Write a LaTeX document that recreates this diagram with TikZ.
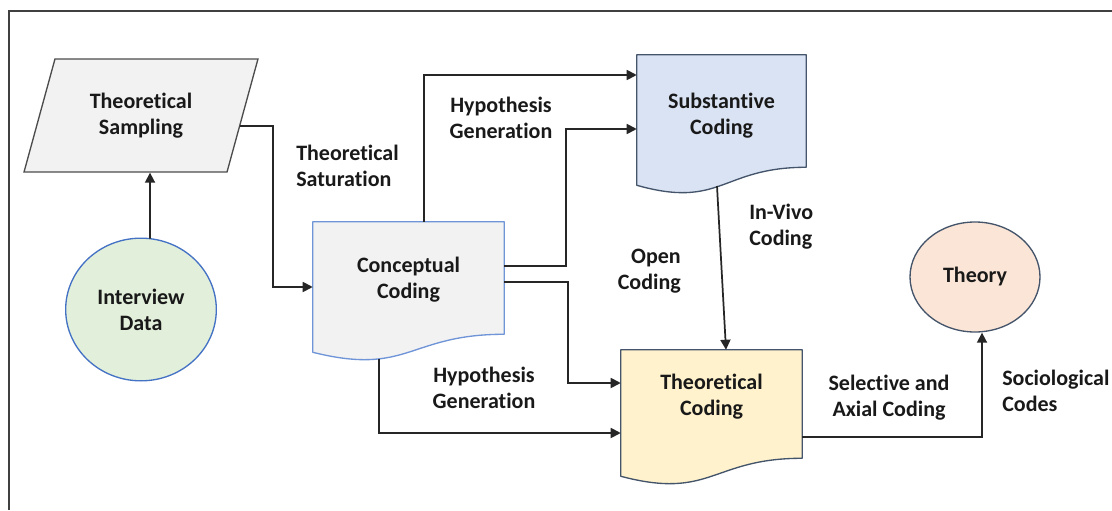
\documentclass[tikz,border=0pt]{standalone}
\usepackage{fontspec}
\setmainfont[Ligatures=NoCommon]{Carlito}
\usetikzlibrary{shapes.geometric,arrows.meta,calc,backgrounds}

\definecolor{samplefill}{HTML}{F2F2F2}
\definecolor{interfill}{HTML}{E2EFDA}
\definecolor{substfill}{HTML}{DAE3F3}
\definecolor{theofill}{HTML}{FFF2CC}
\definecolor{theoryfill}{HTML}{FBE5D6}
\definecolor{lightblue}{HTML}{4472C4}
\definecolor{paleblue}{HTML}{6F95D8}
\definecolor{slateblue}{HTML}{44546A}
\definecolor{darkline}{HTML}{262626}

% document shape below a node: #1 node, #2 extra depth, #3 fill, #4 line
\newcommand{\docshape}[4]{%
  \filldraw[fill=#3, draw=#4, line width=1pt, line join=round]
    (#1.north west) -- (#1.north east) -- ($(#1.south east)+(0,#2-18)$)
    .. controls ($(#1.south)+(0,#2-18)$) and ($(#1.south)+(0,#2+24)$)
    .. ($(#1.south west)+(0,#2)$) -- cycle;
}

\begin{document}
\begin{tikzpicture}[x=0.75pt,y=-0.75pt,
    every node/.style={font=\fontsize{16.5}{19.5}\selectfont\bfseries, text=black!90},
    conn/.style={draw=darkline, line width=1.3pt, -{Triangle[length=7.5pt,width=7.5pt]}},
    lbl/.style={inner sep=0pt},
    docbody/.style={inner sep=0pt, align=center}]
    \useasboundingbox (0,0) rectangle (1112,510);
    % Frame
    \draw[draw=black!75, line width=1.3pt] (1112,11) -- (9,11) -- (9,510);
    % Draw the input shapes
    \node[trapezium, trapezium left angle=67.8, trapezium right angle=112.2,
        trapezium stretches=true, minimum width=175.5pt, minimum height=84.75pt,
        fill=samplefill, draw=black!70, line width=1pt, align=center, inner sep=0pt]
        (samp) at (141,115.5) {Theoretical\\Sampling};
    \node[ellipse, minimum width=113pt, minimum height=107pt, inner sep=0pt,
        fill=interfill, draw=lightblue, line width=1pt, align=center]
        (inter) at (141,309.5) {Interview\\Data};
    \node[ellipse, minimum width=97.5pt, minimum height=82.5pt, inner sep=0pt,
        fill=theoryfill, draw=slateblue, line width=1pt]
        (theory) at (975,277) {Theory};
    % Draw the coding documents
    \node[docbody, minimum width=143.25pt, minimum height=87pt] (concept) at (408.5,280) {Conceptual\\Coding};
    \node[docbody, minimum width=126.75pt, minimum height=91.5pt] (subst) at (721.5,116) {Substantive\\Coding};
    \node[docbody, minimum width=135.75pt, minimum height=70.5pt] (theo) at (711.5,397) {Theoretical\\Coding};
    \begin{scope}[on background layer]
        \docshape{concept}{14}{samplefill}{paleblue}
        \docshape{subst}{8}{substfill}{slateblue}
        \docshape{theo}{32}{theofill}{slateblue}
    \end{scope}
    \coordinate (concept-b) at (379,359);
    \coordinate (subst-b) at (717,186);
    % Connectors
    \draw[conn] ($(inter.north)+(9,1)$) -- ($(samp.south)+(9,0)$);
    \draw[conn] (samp.-6) -| (273,287) -- (concept.west |- 0,287);
    \draw[conn] (concept.north -| 424,0) |- (subst.west |- 0,75);
    \draw[conn] (concept.east |- 0,266) -- (566,266) |- (subst.west |- 0,129);
    \draw[conn] (concept.east |- 0,282) -- (568,282) |- (theo.west |- 0,383);
    \draw[conn] (concept-b) |- (theo.west |- 0,433);
    \draw[conn] (subst-b) -- (theo.north -| 726,0);
    \draw[conn] (theo.east |- 0,437) -| ($(theory.south)+(7,0)$);
    % Labels
    \node[lbl, anchor=west, align=left] (satur) at (296,166) {Theoretical\\Saturation};
    \node[lbl, align=center] (hypo-a) at (501,118) {Hypothesis\\Generation};
    \node[lbl, align=center] (hypo-b) at (484,388) {Hypothesis\\Generation};
    \node[lbl, anchor=east, align=right] (open) at (681,271) {Open\\Coding};
    \node[lbl, anchor=west, align=left] (invivo) at (749,227) {In-Vivo\\Coding};
    \node[lbl, align=center] (select) at (889,398) {Selective and\\Axial Coding};
    \node[lbl, anchor=west, align=left] (socio) at (1002,391) {Sociological\\Codes};
\end{tikzpicture}
\end{document}
